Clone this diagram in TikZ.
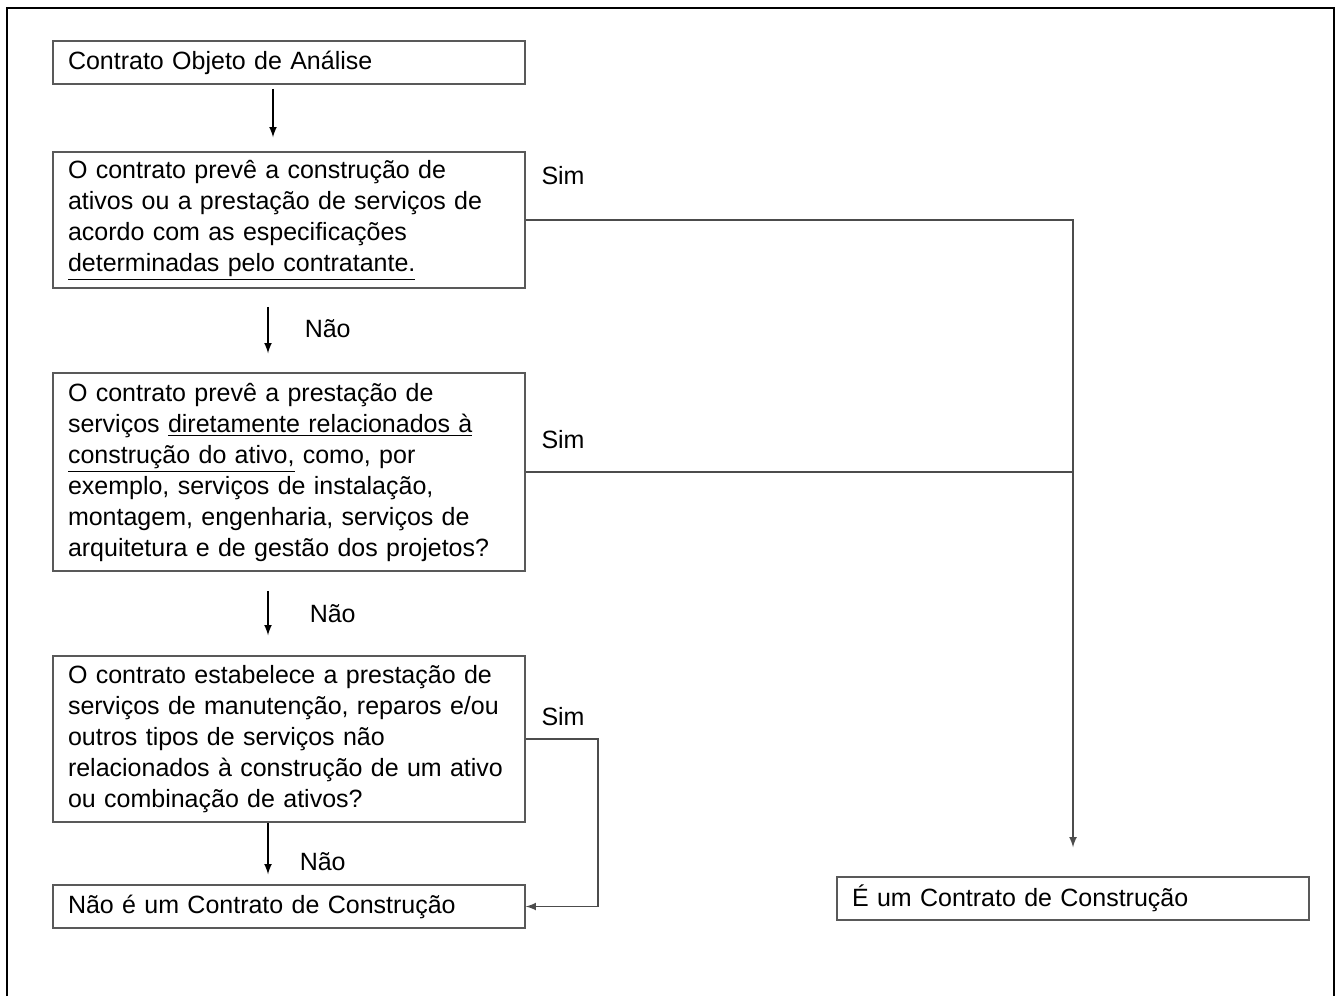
\documentclass[tikz,border=0pt]{standalone}
\usepackage{fontspec}
\setmainfont{Liberation Sans}
\begin{document}
\begin{tikzpicture}[x=0.5pt,y=-0.5pt]
		% Styles
		\tikzstyle{caixa}=[draw=black!65,line width=0.75pt,text width=221pt,align=left,inner xsep=7.5pt,inner ysep=0pt,font=\fontsize{12.5pt}{15.5pt}\selectfont]
		\tikzstyle{seta}=[->,>=latex,black,line width=0.75pt]
		\tikzstyle{ligacao}=[->,>=latex,black!70,line width=0.75pt]
		\tikzstyle{rotulo}=[anchor=west,inner sep=0pt,black,font=\fontsize{12.5pt}{15.5pt}\selectfont]
		% Dimensions
		\def\ColunaA{289}
		\def\ColunaB{1073}
		% Moldura
		\useasboundingbox (0,0) rectangle (1336,996);
		\draw[line width=1pt] (7,996) -- (7,8) -- (1334,8) -- (1334,996);
		% Noeuds
		\node[caixa,minimum height=21.5pt] (Co) at (\ColunaA,62.5) {Contrato Objeto de Análise};
		\node[caixa,minimum height=68pt] (Q1) at (\ColunaA,220) {O contrato prevê a construção de\\ativos ou a prestação de serviços de\\acordo com as especificações\\\underline{determinadas pelo contratante.}};
		\node[caixa,minimum height=99pt] (Q2) at (\ColunaA,472) {O contrato prevê a prestação de\\serviços \underline{diretamente relacionados à}\\\underline{construção do ativo,} como, por\\exemplo, serviços de instalação,\\montagem, engenharia, serviços de\\arquitetura e de gestão dos projetos?};
		\node[caixa,minimum height=83pt] (Q3) at (\ColunaA,739) {O contrato estabelece a prestação de\\serviços de manutenção, reparos e/ou\\outros tipos de serviços não\\relacionados à construção de um ativo\\ou combinação de ativos?};
		\node[caixa,minimum height=21.5pt] (Nc) at (\ColunaA,906.5) {Não é um Contrato de Construção};
		\node[caixa,minimum height=21.5pt] (Ce) at (\ColunaB,898.5) {É um Contrato de Construção};
		
		% Arcs
		\draw[seta,shorten <=2pt,shorten >=7pt] ([xshift=-8pt]Co.south) -- ([xshift=-8pt]Q1.north);
		\draw[seta,shorten <=9pt,shorten >=9.5pt] ([xshift=-10.5pt]Q1.south) -- ([xshift=-10.5pt]Q2.north) node[rotulo,midway,xshift=18pt,yshift=1pt] {Não};
		\draw[seta,shorten <=9.5pt,shorten >=10pt] ([xshift=-10.5pt]Q2.south) -- ([xshift=-10.5pt]Q3.north) node[rotulo,midway,xshift=20.5pt] {Não};
		\draw[seta,shorten >=5pt] ([xshift=-10.5pt]Q3.south) -- ([xshift=-10.5pt]Nc.north) node[rotulo,midway,xshift=15.5pt,yshift=-4pt] {Não};
		\draw[ligacao,shorten >=14.5pt] (Q1.east) node[rotulo,xshift=7.5pt,yshift=22pt] {Sim} -| (Ce.north);
		\draw[ligacao,-] (Q2.east) node[rotulo,xshift=7.5pt,yshift=16pt] {Sim} -- (Q2.east -| Ce.north);
		\draw[ligacao] (Q3.east) node[rotulo,xshift=7.5pt,yshift=11pt] {Sim} -- ++(72,0) |- (Nc.east);
		
\end{tikzpicture}
\end{document}
